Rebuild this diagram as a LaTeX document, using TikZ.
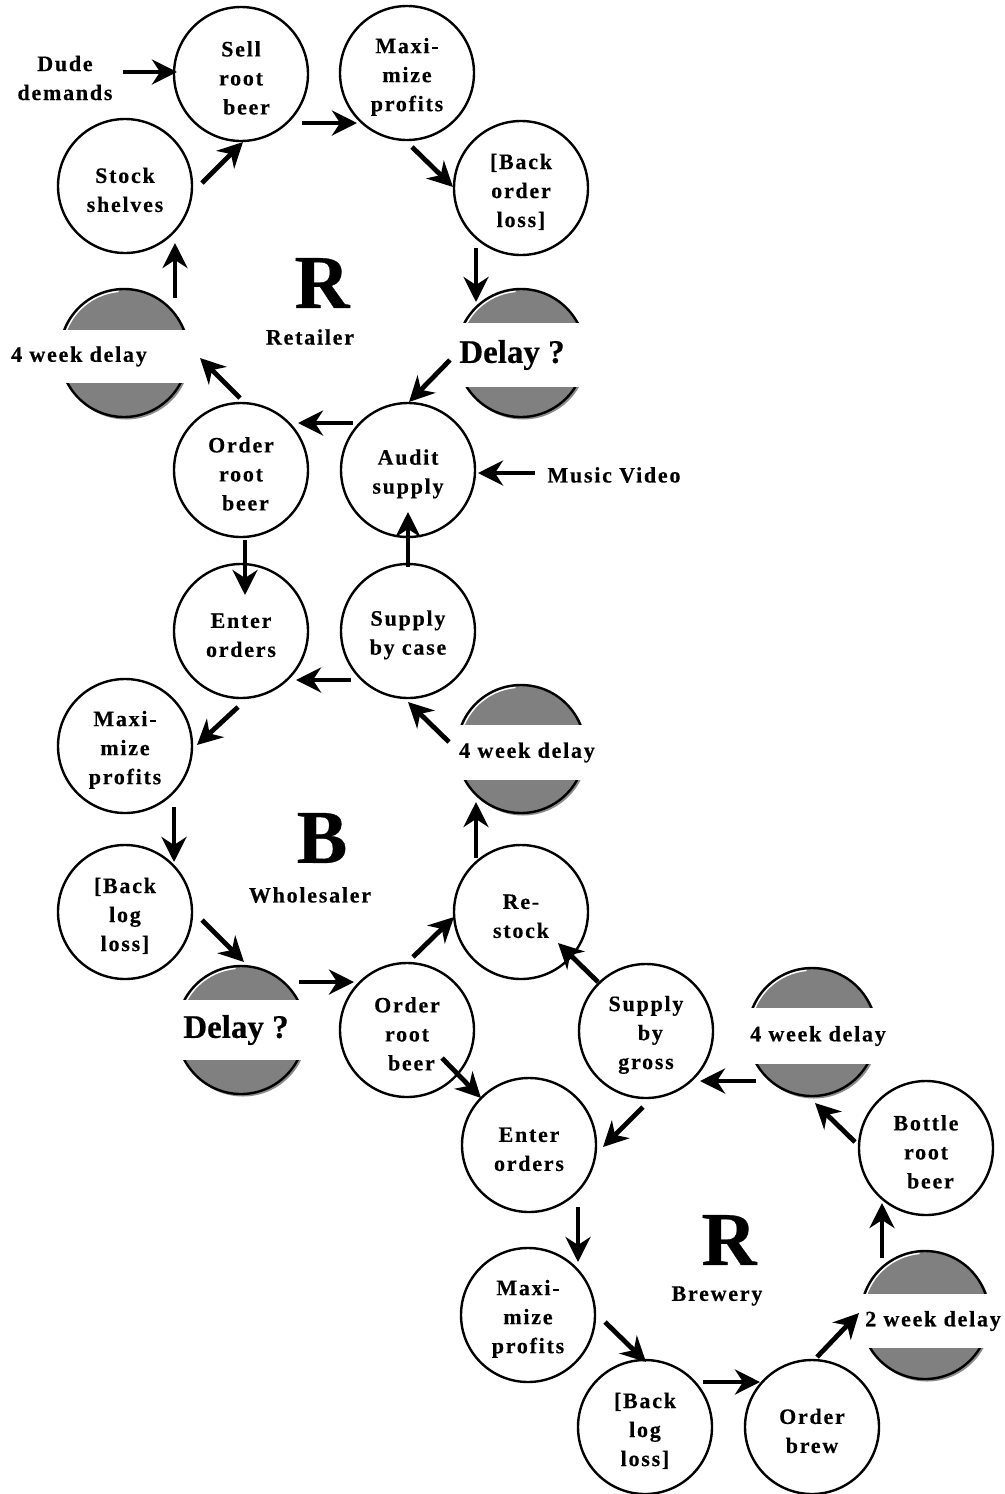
\documentclass[tikz,border=0pt]{standalone}
\usepackage{fontspec}
\setmainfont{Liberation Serif}[BoldFeatures={FakeBold=0.4}]
\newfontfamily\spacedserif[LetterSpace=8,BoldFeatures={FakeBold=0.4}]{Liberation Serif}
\usetikzlibrary{arrows.meta,calc}
\definecolor{dgray}{HTML}{808080}
\newcommand\procfont{\spacedserif\bfseries\fontsize{11}{14.5}\selectfont}
\newcommand\tp{\rule{0pt}{11.5pt}}
% name, x, y, band centre y, band half height (px)
\newcommand\dlycirc[5]{%
  \fill[black!45] (#2+2,#3+2) circle[radius=64.5];
  \node[dly] (#1) at (#2,#3) {};
  \draw[white,line width=0.7pt] (#1.center) ++(188:61.8) arc[start angle=188,end angle=265,radius=61.8];
  \fill[white] (#2-70,#4-#5) rectangle (#2+70,#4+#5);
}
\begin{document}
\begin{tikzpicture}[x=0.5pt,y=-0.5pt,
  proc/.style={circle,draw,line width=1.2pt,minimum size=67pt,inner sep=0pt,align=center,font=\procfont},
  dly/.style={circle,draw,line width=1.2pt,fill=dgray,minimum size=64pt,inner sep=0pt},
  lbl/.style={align=center,font=\procfont,inner sep=0pt},
  bandtxt/.style={fill=white,inner xsep=2pt,inner ysep=0pt,font=\procfont},
  bigdelay/.style={fill=white,inner xsep=2pt,inner ysep=0pt,font=\bfseries\fontsize{16.5}{18}\selectfont},
  big/.style={inner sep=0pt,font=\bfseries\fontsize{38}{40}\selectfont},
  arr/.style={-{Stealth[length=12.5pt,width=12.5pt,inset=4pt]},line width=2.4pt}
]
\useasboundingbox (0,0) rectangle (1005,1494);

% ---------- Retailer loop ----------
\node[proc] (sell)   at (241,74)  {\tp Sell\\root\\\hspace{0.5em}beer};
\node[proc] (maxiR)  at (407,73)  {\tp Maxi-\\mize\\profits};
\node[proc] (backR)  at (521,188) {\tp [Back\\order\\loss]};
\dlycirc{delayR}{521}{353}{355}{32}
\node[bigdelay,minimum height=32pt] (delayRt) at (512,355) {Delay ?};
\node[proc] (audit)  at (408,470) {\tp Audit\\supply};
\node[proc] (orderR) at (241,470) {\tp Order\\root\\\hspace{0.4em}beer};
\dlycirc{delayL}{124}{353}{356.5}{26.5}
\node[bandtxt,minimum height=26.5pt] (delayLt) at (79,356.5) {4 week delay};
\node[proc] (stock)  at (125,186) {\tp Stock\\shelves};
\node[lbl] (dude) at (65,78) {Dude\\demands};
\node[lbl] (music) at (614,475) {Music Video};
\node[big] (Rr) at (322,283) {R};
\node[lbl] (retail) at (310,337) {Retailer};

% ---------- Wholesaler loop ----------
\node[proc] (enterW)  at (241,631) {\tp Enter\\orders};
\node[proc] (supplyC) at (408,631) {\tp Supply\\by case};
\dlycirc{wkW}{521}{749}{752.5}{27.5}
\node[bandtxt,minimum height=27.5pt] (wkWt) at (527,752.5) {4 week delay};
\node[proc] (restock) at (521,912) {\tp Re-\\stock};
\node[proc] (orderW)  at (407,1030) {\tp Order\\root\\\hspace{0.4em}beer};
\dlycirc{delayW}{241}{1030}{1030}{30}
\node[bigdelay,minimum height=30pt] (delayWt) at (236,1030) {Delay ?};
\node[proc] (backW) at (125,912) {\tp [Back\\log\\loss]};
\node[proc] (maxiW) at (125,746) {\tp Maxi-\\mize\\profits};
\node[big] (Bw) at (322,838) {B};
\node[lbl] (whole) at (310,895) {Wholesaler};

% ---------- Brewery loop ----------
\node[proc] (enterB)  at (529,1145) {\tp Enter\\orders};
\node[proc] (supplyG) at (646,1031) {\tp Supply\\\hspace{0.4em}by\\gross};
\dlycirc{wkB}{812}{1032}{1036}{28}
\node[bandtxt,minimum height=28pt] (wkBt) at (818,1036) {4 week delay};
\node[proc] (bottle) at (926,1148) {\tp Bottle\\root\\\hspace{0.4em}beer};
\dlycirc{wkT}{925}{1315}{1321}{27}
\node[bandtxt,minimum height=27pt] (wkTt) at (933,1321) {2 week delay};
\node[proc] (brew)  at (812,1427) {\tp Order\\brew};
\node[proc] (backB) at (645,1427) {\tp [Back\\log\\loss]};
\node[proc] (maxiB) at (528,1315) {\tp Maxi-\\mize\\profits};
\node[big] (Rb) at (729,1240) {R};
\node[lbl] (brewery) at (717,1296) {Brewery};

% ---------- Connectors ----------
\draw[arr] ($(dude)+(58,-6)$)    -- ($(sell)+(-64,-2)$);
\draw[arr] ($(sell)+(61,49)$)    -- ($(maxiR)+(-50,50)$);
\draw[arr] ($(maxiR)+(5,74)$)    -- ($(backR)+(-68,-1)$);
\draw[arr] ($(backR)+(-45,60)$)  -- ($(delayR)+(-45,-51)$);
\draw[arr] ($(delayR)+(-71,7)$)  -- ($(audit)+(1,-68)$);
\draw[arr] ($(audit)+(-55,-47)$) -- ($(orderR)+(57,-47)$);
\draw[arr] ($(music)+(-79,-2)$)  -- ($(audit)+(70,3)$);
\draw[arr] ($(orderR)+(-1,-72)$) -- ($(delayL)+(76,5)$);
\draw[arr] ($(delayL)+(51,-55)$) -- ($(stock)+(50,57)$);
\draw[arr] ($(stock)+(77,-3)$)   -- ($(sell)+(2,68)$);

\draw[arr] ($(orderR)+(4,70)$)    -- ($(enterW)+(4,-36)$);
\draw[arr] ($(supplyC)+(0,-64)$)  -- ($(audit)+(0,42)$);
\draw[arr] ($(supplyC)+(-57,49)$) -- ($(enterW)+(55,49)$);
\draw[arr] ($(wkW)+(-72,-7)$)     -- ($(supplyC)+(0,71)$);
\draw[arr] ($(enterW)+(-3,76)$)   -- ($(maxiW)+(72,-1)$);
\draw[arr] ($(maxiW)+(49,61)$)    -- ($(backW)+(49,-50)$);
\draw[arr] ($(backW)+(77,8)$)     -- ($(delayW)+(3,-68)$);
\draw[arr] ($(delayW)+(58,-48)$)  -- ($(orderW)+(-53,-48)$);
\draw[arr] ($(orderW)+(6,-73)$)   -- ($(restock)+(-67,5)$);
\draw[arr] ($(restock)+(-45,-54)$) -- ($(wkW)+(-45,53)$);

\draw[arr] ($(orderW)+(35,28)$)   -- ($(enterB)+(-48,-47)$);
\draw[arr] ($(supplyG)+(-48,-49)$) -- ($(restock)+(37,31)$);
\draw[arr] ($(supplyG)+(-3,76)$)  -- ($(enterB)+(74,2)$);
\draw[arr] ($(wkB)+(-56,49)$)     -- ($(supplyG)+(54,50)$);
\draw[arr] ($(bottle)+(-71,-6)$)  -- ($(wkB)+(3,71)$);
\draw[arr] ($(wkT)+(-43,-57)$)    -- ($(bottle)+(-44,55)$);
\draw[arr] ($(enterB)+(49,62)$)   -- ($(maxiB)+(50,-53)$);
\draw[arr] ($(maxiB)+(77,7)$)     -- ($(backB)+(1,-65)$);
\draw[arr] ($(backB)+(58,-45)$)   -- ($(brew)+(-52,-45)$);
\draw[arr] ($(brew)+(5,-70)$)     -- ($(wkT)+(-66,-2)$);
\end{tikzpicture}
\end{document}
